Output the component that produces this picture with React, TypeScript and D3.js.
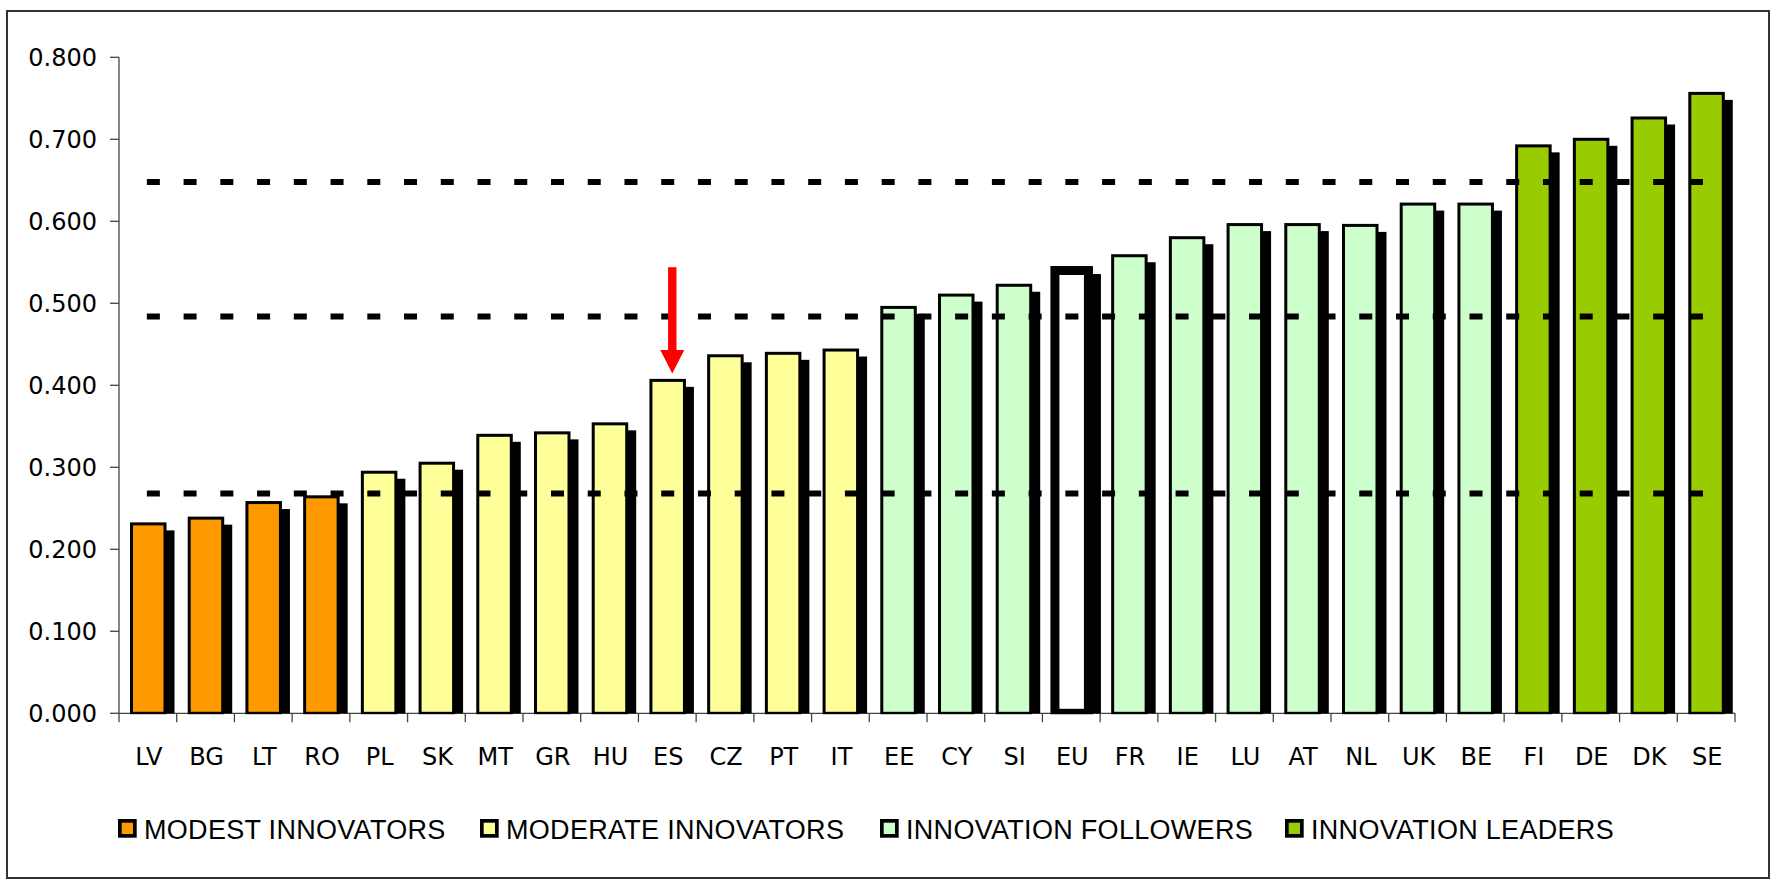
import React from "react";
import * as d3 from "d3";

// ---------- data ----------
const countries = ["LV","BG","LT","RO","PL","SK","MT","GR","HU","ES","CZ","PT","IT","EE","CY","SI","EU","FR","IE","LU","AT","NL","UK","BE","FI","DE","DK","SE"];
const scores = [0.231,0.238,0.257,0.264,0.294,0.305,0.339,0.342,0.353,0.406,0.436,0.439,0.443,0.495,0.510,0.522,0.540,0.558,0.580,0.596,0.596,0.595,0.621,0.621,0.692,0.700,0.726,0.756];
const groups = ["modest","modest","modest","modest","moderate","moderate","moderate","moderate","moderate","moderate","moderate","moderate","moderate","followers","followers","followers","eu","followers","followers","followers","followers","followers","followers","followers","leaders","leaders","leaders","leaders"];
const thresholds = [0.268, 0.484, 0.648];
const yTicks = [0, 0.1, 0.2, 0.3, 0.4, 0.5, 0.6, 0.7, 0.8];
const legendKeys = ["modest", "moderate", "followers", "leaders"];
const legendLabels = ["MODEST INNOVATORS", "MODERATE INNOVATORS", "INNOVATION FOLLOWERS", "INNOVATION LEADERS"];
const highlighted = "ES";
const arrowTopValue = 0.544;

const fills: Record<string, string> = {
  modest: "#FF9900",
  moderate: "#FFFF99",
  followers: "#CCFFCC",
  leaders: "#99CC00",
  eu: "#FFFFFF",
};

export default function App() {
  const W = 1777, H = 880;
  const x0 = 119, x1 = 1735;
  const yTop = 57.3, yBase = 713.3;

  const x = d3.scaleBand<string>().domain(countries).range([x0, x1]).padding(0);
  const y = d3.scaleLinear().domain([0, 0.8]).range([yBase, yTop]);
  const bw = 33.5;
  const barOff = 12.5;
  const fmt = d3.format(".3f");

  const firstC = x(countries[0])! + x.bandwidth() / 2;
  const lastC = x(countries[countries.length - 1])! + x.bandwidth() / 2;

  const esIdx = countries.indexOf(highlighted);
  const ax = x(highlighted)! + x.bandwidth() / 2 + 5;
  const tipY = y(scores[esIdx]) - 7;
  const arrowTop = y(arrowTopValue);
  const headH = 23.3;

  const legendX = [118, 480, 880, 1285];
  const fontTick = "'DejaVu Sans', Verdana, sans-serif";
  const fontLegend = "'Liberation Sans', Arial, sans-serif";

  return (
    <div style={{ position: "absolute", left: 0, top: 0, width: W, height: H, overflow: "hidden", background: "#fff" }}>
      <style>{`body{margin:0;overflow:hidden}`}</style>
      <svg width={W} height={H} style={{ display: "block" }}>
        <defs>
          <clipPath id="plotClip">
            <rect x={0} y={0} width={W} height={yBase + 1} />
          </clipPath>
        </defs>
        <rect x={0} y={0} width={W} height={H} fill="#fff" />
        {/* outer border */}
        <rect x={7} y={11} width={1762} height={867} fill="none" stroke="#333" strokeWidth={2} />

        {/* axes */}
        <line x1={x0} x2={x0} y1={yTop} y2={yBase + 9} stroke="#444" strokeWidth={1.3} />
        <line x1={x0} x2={x1} y1={yBase} y2={yBase} stroke="#444" strokeWidth={1.3} />
        {yTicks.map((t) => (
          <g key={t}>
            <line x1={x0 - 9} x2={x0} y1={y(t)} y2={y(t)} stroke="#444" strokeWidth={1.3} />
            <text x={97} y={y(t) + 8.5} textAnchor="end" fontFamily={fontTick} fontSize={24} fill="#000">
              {fmt(t)}
            </text>
          </g>
        ))}
        {countries.map((c) => (
          <line key={"t" + c} x1={x(c)! + x.bandwidth()} x2={x(c)! + x.bandwidth()} y1={yBase} y2={yBase + 9} stroke="#444" strokeWidth={1.3} />
        ))}
        {countries.map((c) => (
          <text key={"l" + c} x={x(c)! + x.bandwidth() / 2 + 1} y={764.5} textAnchor="middle" fontFamily={fontTick} fontSize={24} fill="#000">
            {c}
          </text>
        ))}

        {/* bars */}
        <g clipPath="url(#plotClip)">
          {countries.map((c, i) => {
            const g = groups[i];
            const sw = g === "eu" ? 9 : 3;
            const bx = x(c)! + barOff;
            const by = y(scores[i]);
            const sy = by - sw / 2 + 8;
            return (
              <g key={"b" + c}>
                <rect x={bx - sw / 2 + 8} y={sy} width={bw + sw} height={yBase - sy} fill="#000" />
                <rect x={bx} y={by} width={bw} height={yBase - by} fill={fills[g]} stroke="#000" strokeWidth={sw} />
              </g>
            );
          })}
        </g>

        {/* threshold lines */}
        {thresholds.map((t) => (
          <line key={"th" + t} x1={firstC - 1} x2={lastC} y1={y(t)} y2={y(t)} stroke="#000" strokeWidth={6} strokeDasharray="13 23.74" />
        ))}

        {/* arrow */}
        <rect x={ax - 4.2} y={arrowTop} width={8.4} height={tipY - headH - arrowTop + 1} fill="#FF0000" />
        <path d={`M${ax - 12},${tipY - headH} L${ax + 12},${tipY - headH} L${ax},${tipY} Z`} fill="#FF0000" />

        {/* legend */}
        {legendKeys.map((k, i) => (
          <g key={"lg" + k}>
            <rect x={legendX[i] + 1.85} y={820.85} width={15} height={15} fill={fills[k]} stroke="#000" strokeWidth={3.7} />
            <text x={legendX[i] + 26} y={838.5} fontFamily={fontLegend} fontSize={27} letterSpacing={0.3} fill="#000">
              {legendLabels[i]}
            </text>
          </g>
        ))}
      </svg>
    </div>
  );
}
